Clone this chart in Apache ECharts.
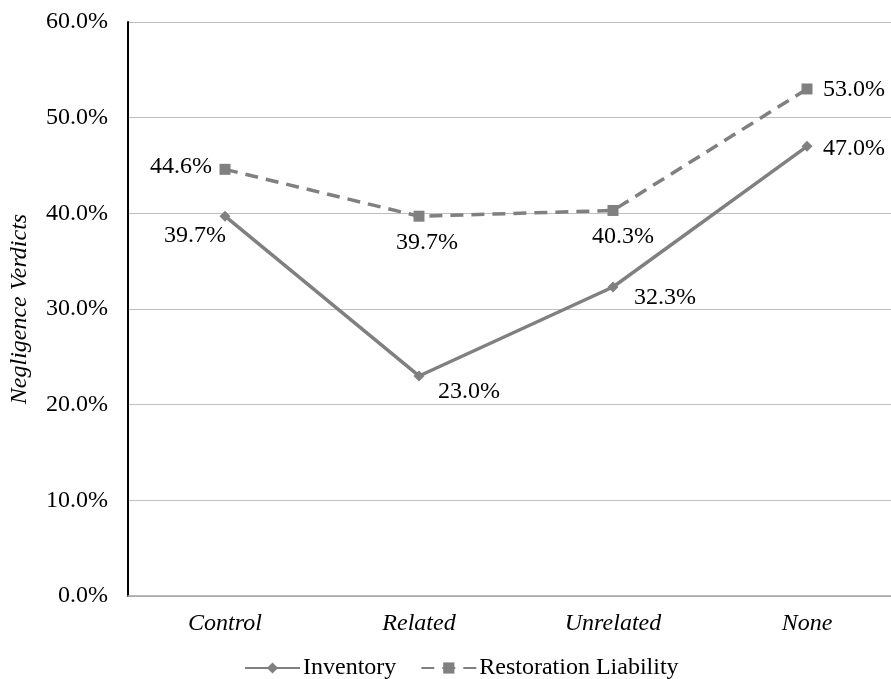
<!DOCTYPE html>
<html>
<head>
<meta charset="utf-8">
<script src="https://cdn.jsdelivr.net/npm/echarts@6/dist/echarts.min.js"></script>
<style>
html,body{margin:0;padding:0;background:#fff;overflow:hidden;}
#chart{width:904px;height:679px;}
</style>
</head>
<body>
<div id="chart"></div>
<script>
var categories = ['Control', 'Related', 'Unrelated', 'None'];
var inventory = [39.7, 23.0, 32.3, 47.0];
var restoration = [44.6, 39.7, 40.3, 53.0];
var yTicks = {min: 0, max: 60, interval: 10};

var inventoryOffsets = [[-30, 19], [50, 16], [52, 11], [47, 2]];
var restorationOffsets = [[-44, -3], [8, 26], [10, 26], [47, 1]];

var FONT = 'Liberation Serif';
var GRAY = '#808080';

function withLabels(values, offsets) {
  return values.map(function (v, i) {
    return {value: v, label: {offset: offsets[i]}};
  });
}

var chart = echarts.init(document.getElementById('chart'), null, {renderer: 'canvas'});
chart.setOption({
  backgroundColor: '#fff',
  animation: false,
  grid: {left: 128, right: 0, top: 22, bottom: 83, containLabel: false},
  legend: {
    left: 239, top: 651,
    itemWidth: 55, itemHeight: 14, itemGap: 24,
    textStyle: {fontFamily: FONT, fontSize: 24, color: '#000', padding: [0, 0, 0, -2]},
    data: ['Inventory', 'Restoration Liability']
  },
  xAxis: {
    type: 'category',
    data: categories,
    boundaryGap: true,
    axisLine: {lineStyle: {color: '#a6a6a6', width: 1.5}},
    axisTick: {show: false},
    axisLabel: {fontFamily: FONT, fontStyle: 'italic', fontSize: 24, color: '#000', margin: 16}
  },
  yAxis: {
    type: 'value',
    min: yTicks.min, max: yTicks.max, interval: yTicks.interval,
    name: 'Negligence Verdicts',
    nameLocation: 'middle',
    nameGap: 96,
    nameTextStyle: {fontFamily: FONT, fontStyle: 'italic', fontSize: 24, color: '#000'},
    axisLine: {show: true, lineStyle: {color: '#000', width: 2}},
    axisTick: {show: false},
    splitLine: {lineStyle: {color: '#bfbfbf', width: 1}},
    axisLabel: {
      fontFamily: FONT, fontSize: 24, color: '#000', margin: 20,
      formatter: function (v) { return v.toFixed(1) + '%'; }
    }
  },
  series: [
    {
      name: 'Inventory',
      type: 'line',
      data: withLabels(inventory, inventoryOffsets),
      symbol: 'diamond', symbolSize: 11,
      itemStyle: {color: GRAY},
      lineStyle: {color: GRAY, width: 3.5},
      label: {
        show: true, position: 'inside', align: 'center', verticalAlign: 'middle',
        fontFamily: FONT, fontSize: 24, color: '#000',
        formatter: function (p) { return p.value.toFixed(1) + '%'; }
      },
      z: 3
    },
    {
      name: 'Restoration Liability',
      type: 'line',
      data: withLabels(restoration, restorationOffsets),
      symbol: 'rect', symbolSize: 11,
      itemStyle: {color: GRAY},
      lineStyle: {color: GRAY, width: 3.5, type: [13, 8]},
      label: {
        show: true, position: 'inside', align: 'center', verticalAlign: 'middle',
        fontFamily: FONT, fontSize: 24, color: '#000',
        formatter: function (p) { return p.value.toFixed(1) + '%'; }
      },
      z: 3
    }
  ]
});
</script>
</body>
</html>
